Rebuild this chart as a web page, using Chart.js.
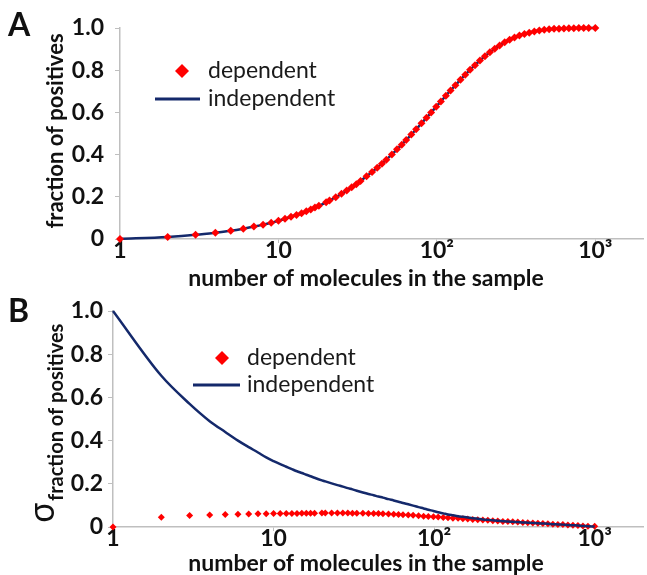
<!DOCTYPE html>
<html>
<head>
<meta charset="utf-8">
<script src="https://cdn.jsdelivr.net/npm/chart.js@4.4.0/dist/chart.umd.min.js"></script>
<style>
  html, body { margin: 0; padding: 0; background: #fff; }
  #wrap { position: relative; width: 647px; height: 575px; }
  .panel { position: absolute; left: 0; width: 647px; }
  #panelA { top: 0; height: 290px; }
  #panelB { top: 290px; height: 285px; }
</style>
</head>
<body>
<div id="wrap">
  <div class="panel" id="panelA"><canvas id="chartA"></canvas></div>
  <div class="panel" id="panelB"><canvas id="chartB"></canvas></div>
</div>
<script>
// number of molecules in the sample (x positions of the samples)
const molecules = [1, 2, 3, 4, 5, 6, 7, 8, 9, 10, 11, 12, 13, 14, 15, 16, 17, 18,
  20, 21, 23, 25, 27, 29, 31, 33, 36, 39, 42, 45, 48, 52, 56, 60, 64, 69, 74,
  80, 86, 92, 99, 106, 114, 122, 131, 141, 151, 162, 174, 187, 201, 216, 232, 249, 268, 288,
  309, 332, 357, 383, 412, 443, 476, 511, 549, 590, 634, 681, 732, 787, 845, 908, 1000];

// panel A: fraction of positives
const fracDependent = [0, 0.010, 0.020, 0.030, 0.039, 0.049, 0.059, 0.068, 0.077, 0.086, 0.096, 0.105, 0.114, 0.122, 0.131, 0.140, 0.149, 0.157,
  0.174, 0.182, 0.198, 0.214, 0.230, 0.245, 0.260, 0.275, 0.297, 0.318, 0.338, 0.357, 0.376, 0.401, 0.425, 0.447, 0.469, 0.495, 0.520,
  0.548, 0.575, 0.599, 0.627, 0.652, 0.679, 0.704, 0.729, 0.755, 0.779, 0.802, 0.824, 0.846, 0.866, 0.885, 0.902, 0.917, 0.932, 0.944,
  0.955, 0.964, 0.972, 0.978, 0.984, 0.988, 0.992, 0.994, 0.996, 0.997, 0.998, 0.999, 0.999, 1.0, 1.0, 1.0, 1.0];
const fracIndependent = [0, 0.010, 0.020, 0.030, 0.039, 0.049, 0.059, 0.068, 0.077, 0.086, 0.096, 0.105, 0.114, 0.122, 0.131, 0.140, 0.149, 0.157,
  0.174, 0.182, 0.198, 0.214, 0.230, 0.245, 0.260, 0.275, 0.297, 0.318, 0.338, 0.357, 0.376, 0.401, 0.425, 0.447, 0.469, 0.495, 0.520,
  0.548, 0.575, 0.599, 0.627, 0.652, 0.679, 0.704, 0.729, 0.755, 0.779, 0.802, 0.824, 0.846, 0.866, 0.885, 0.902, 0.917, 0.932, 0.944,
  0.955, 0.964, 0.972, 0.978, 0.984, 0.988, 0.992, 0.994, 0.996, 0.997, 0.998, 0.999, 0.999, 1.0, 1.0, 1.0, 1.0];

// panel B: sigma of the fraction of positives
const sigmaDependent = [0, 0.045, 0.053, 0.056, 0.058, 0.059, 0.060, 0.061, 0.061, 0.062, 0.062, 0.063, 0.063, 0.063, 0.064, 0.064, 0.064, 0.064,
  0.065, 0.065, 0.065, 0.065, 0.065, 0.065, 0.064, 0.064, 0.064, 0.063, 0.063, 0.062, 0.061, 0.060, 0.059, 0.058, 0.057, 0.055, 0.054,
  0.052, 0.050, 0.049, 0.047, 0.046, 0.044, 0.043, 0.041, 0.040, 0.038, 0.037, 0.035, 0.033, 0.032, 0.031, 0.029, 0.028, 0.026, 0.025,
  0.024, 0.023, 0.021, 0.020, 0.019, 0.017, 0.016, 0.015, 0.013, 0.012, 0.011, 0.009, 0.008, 0.007, 0.005, 0.004, 0.003];
const sigmaIndependent = [1.00, 0.70, 0.57, 0.49, 0.44, 0.40, 0.37, 0.345, 0.322, 0.305, 0.291, 0.279, 0.268, 0.258, 0.250, 0.242, 0.235, 0.228,
  0.216, 0.211, 0.202, 0.194, 0.187, 0.180, 0.174, 0.168, 0.160, 0.153, 0.147, 0.141, 0.136, 0.129, 0.123, 0.117, 0.111, 0.105, 0.099,
  0.092, 0.086, 0.080, 0.074, 0.068, 0.063, 0.058, 0.054, 0.050, 0.047, 0.044, 0.041, 0.038, 0.035, 0.033, 0.031, 0.029, 0.027, 0.025,
  0.024, 0.023, 0.021, 0.020, 0.019, 0.017, 0.016, 0.015, 0.013, 0.012, 0.011, 0.009, 0.008, 0.007, 0.005, 0.004, 0.002];

const X_TICKS = [1, 10, 100, 1000];
const X_TICK_LABELS = ["1", "10", "10²", "10³"];
const SERIES_LABELS = ["dependent", "independent"];

const FONT = "Lato, 'Open Sans', sans-serif";
const RED = "#ff0000";
const NAVY = "#14296b";
const AXIS_GRAY = "#bfbfbf";
const INK = "#111111";

function toPoints(ys) {
  return molecules.map((n, i) => ({ x: n, y: ys[i] }));
}

// panel letter, axis titles and legend drawn on top of the chart
function decorPlugin(cfg) {
  return {
    id: "decor",
    afterDraw(chart) {
      const ctx = chart.ctx;
      ctx.save();
      ctx.fillStyle = INK;
      ctx.textBaseline = "middle";

      ctx.font = "bold 32px " + FONT;
      ctx.textAlign = "left";
      ctx.fillText(cfg.letter, 8, cfg.letterY);

      ctx.font = "bold 23px " + FONT;
      ctx.textAlign = "center";
      ctx.fillText("number of molecules in the sample", 366, cfg.xTitleY);

      cfg.drawYTitle(ctx);

      // legend
      const lg = cfg.legend;
      ctx.font = "23px " + FONT;
      ctx.textAlign = "left";
      ctx.fillStyle = "#1a1a1a";
      ctx.fillText(SERIES_LABELS[0], lg.textX, lg.y1);
      ctx.fillText(SERIES_LABELS[1], lg.textX, lg.y2);
      ctx.fillStyle = RED;
      ctx.beginPath();
      ctx.moveTo(lg.markX, lg.y1 - 7);
      ctx.lineTo(lg.markX + 7, lg.y1);
      ctx.lineTo(lg.markX, lg.y1 + 7);
      ctx.lineTo(lg.markX - 7, lg.y1);
      ctx.closePath();
      ctx.fill();
      ctx.strokeStyle = NAVY;
      ctx.lineWidth = 3;
      ctx.beginPath();
      ctx.moveTo(lg.lineX1, lg.y2);
      ctx.lineTo(lg.lineX2, lg.y2);
      ctx.stroke();
      ctx.restore();
    }
  };
}

function makePanel(canvasId, cfg) {
  const ctx = document.getElementById(canvasId).getContext("2d");
  const markers = {
    label: SERIES_LABELS[0],
    data: toPoints(cfg.dependent),
    showLine: false,
    pointStyle: "rectRot",
    pointRadius: cfg.markerRadius,
    pointBackgroundColor: RED,
    pointBorderWidth: 0,
    clip: false,
    order: cfg.markersOnTop ? 0 : 1
  };
  const line = {
    label: SERIES_LABELS[1],
    data: toPoints(cfg.independent),
    showLine: true,
    borderColor: NAVY,
    borderWidth: 2.5,
    pointRadius: 0,
    cubicInterpolationMode: "monotone",
    clip: false,
    order: cfg.markersOnTop ? 1 : 0
  };
  return new Chart(ctx, {
    type: "scatter",
    data: { datasets: [markers, line] },
    plugins: [decorPlugin(cfg)],
    options: {
      responsive: true,
      maintainAspectRatio: false,
      animation: false,
      layout: { padding: { top: cfg.padTop, left: 0, right: 0, bottom: 0 } },
      plugins: { legend: { display: false }, tooltip: { enabled: false } },
      scales: {
        x: {
          type: "logarithmic",
          min: 1,
          max: 2000,
          afterBuildTicks: (s) => { s.ticks = X_TICKS.map(v => ({ value: v })); },
          afterFit: (s) => { s.height = cfg.xAxisHeight; },
          border: { display: true, color: AXIS_GRAY, width: 1.5 },
          grid: { display: true, drawOnChartArea: false, tickLength: 4, color: AXIS_GRAY },
          ticks: {
            autoSkip: false,
            maxRotation: 0,
            padding: -6,
            color: INK,
            font: { family: FONT, size: 23, weight: "bold" },
            callback: (v, i) => X_TICK_LABELS[i]
          }
        },
        y: {
          min: 0,
          max: 1,
          afterFit: (s) => { s.width = cfg.yAxisWidth; },
          border: { display: true, color: AXIS_GRAY, width: 1.5 },
          grid: { display: true, drawOnChartArea: false, tickLength: 5, color: AXIS_GRAY },
          ticks: {
            stepSize: 0.2,
            padding: cfg.yTickPad,
            color: INK,
            font: { family: FONT, size: 23, weight: "bold" },
            callback: (v) => (v === 0 ? "0" : v.toFixed(1))
          }
        }
      }
    }
  });
}

makePanel("chartA", {
  dependent: fracDependent,
  independent: fracIndependent,
  markersOnTop: true,
  markerRadius: 4,
  padTop: 28,
  xAxisHeight: 51,
  yAxisWidth: 120,
  yTickPad: 11,
  letter: "A",
  letterY: 26,
  xTitleY: 279,
  legend: { markX: 182, textX: 208, y1: 71, y2: 99, lineX1: 155, lineX2: 200 },
  drawYTitle: (ctx) => {
    ctx.save();
    ctx.translate(63, 131);
    ctx.rotate(-Math.PI / 2);
    ctx.textAlign = "center";
    ctx.textBaseline = "alphabetic";
    ctx.font = "bold 22px " + FONT;
    ctx.fillText("fraction of positives", 0, 0);
    ctx.restore();
  }
});

makePanel("chartB", {
  dependent: sigmaDependent,
  independent: sigmaIndependent,
  markersOnTop: false,
  markerRadius: 3.5,
  padTop: 21,
  xAxisHeight: 48,
  yAxisWidth: 113,
  yTickPad: 5,
  letter: "B",
  letterY: 22,
  xTitleY: 274,
  legend: { markX: 222, textX: 247, y1: 68, y2: 95, lineX1: 193, lineX2: 240 },
  drawYTitle: (ctx) => {
    ctx.save();
    ctx.translate(54, 233);
    ctx.rotate(-Math.PI / 2);
    ctx.textAlign = "left";
    ctx.textBaseline = "alphabetic";
    ctx.font = "34px 'Noto Sans', 'DejaVu Sans', sans-serif";
    ctx.fillText("σ", 0, 0);
    ctx.restore();
    ctx.save();
    ctx.translate(63, 211);
    ctx.rotate(-Math.PI / 2);
    ctx.textAlign = "left";
    ctx.textBaseline = "alphabetic";
    ctx.font = "bold 20px " + FONT;
    ctx.fillText("fraction of positives", 0, 0);
    ctx.restore();
  }
});
</script>
</body>
</html>
